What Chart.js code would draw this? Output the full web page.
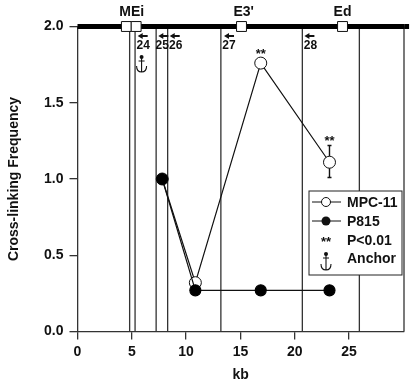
<!DOCTYPE html>
<html>
<head>
<meta charset="utf-8">
<style>
  html, body { margin: 0; padding: 0; background: #fff; }
  #wrap { position: relative; width: 412px; height: 387px; }
</style>
<script src="https://cdn.jsdelivr.net/npm/chart.js@4"></script>
</head>
<body>
<div id="wrap"><canvas id="chart"></canvas></div>
<script>
const mpcX = [7.8, 10.85, 16.87, 23.2];
const mpcY = [1.0, 0.32, 1.76, 1.11];
const p815X = [7.8, 10.85, 16.87, 23.2];
const p815Y = [1.0, 0.27, 0.27, 0.27];
const errorX = [23.2, 23.2];
const errorY = [1.01, 1.22];
const boundaryX = [4.8, 5.3, 7.24, 8.3, 13.2, 20.7, 25.95, 30.06];
const enhancerX = [4.5, 5.4, 15.1, 24.4];
const enhancerNames = ["MEi", "E3'", "Ed"];
const enhancerNameX = [5, 15.3, 24.4];
const primerNames = ["24", "25", "26", "27", "28"];
const primerX = [6.05, 7.8, 9.05, 13.95, 21.45];
const primerArrowX = [6.0, 7.9, 8.95, 13.95, 21.35];
const starX = [16.87, 23.2];
const starY = [1.83, 1.26];
const xTicks = [0, 5, 10, 15, 20, 25];
const yTicks = [0, 0.5, 1, 1.5, 2];
const legendLabels = ["MPC-11", "P815", "P<0.01", "Anchor"];

const pairs = (xs, ys) => xs.map((x, i) => ({ x: x, y: ys[i] }));
const boundaryPoints = [];
boundaryX.forEach(x => {
  boundaryPoints.push({ x: x, y: 0 }, { x: x, y: 2 }, { x: x, y: NaN });
});

const ink = "#111";
const bold = size => "bold " + size + "px 'Liberation Sans', Arial, sans-serif";

function drawAnchor(ctx, cx, top, h) {
  ctx.save();
  ctx.strokeStyle = ink;
  ctx.fillStyle = ink;
  ctx.lineWidth = 1.1;
  ctx.beginPath();
  ctx.arc(cx, top + 2, 2, 0, Math.PI * 2);
  ctx.fill();
  ctx.beginPath();
  ctx.moveTo(cx, top + 2);
  ctx.lineTo(cx, top + h);
  ctx.moveTo(cx - 3, top + 6);
  ctx.lineTo(cx + 3, top + 6);
  ctx.moveTo(cx - 5, top + h - 6);
  ctx.quadraticCurveTo(cx - 5, top + h, cx, top + h);
  ctx.quadraticCurveTo(cx + 5, top + h, cx + 5, top + h - 6);
  ctx.stroke();
  ctx.restore();
}

const overlay = {
  id: "overlay",
  afterDatasetsDraw(chart) {
    const ctx = chart.ctx;
    const sx = chart.scales.x;
    const sy = chart.scales.y;
    ctx.save();
    ctx.fillStyle = ink;
    ctx.textAlign = "center";
    ctx.textBaseline = "middle";

    ctx.font = bold(14);
    enhancerNames.forEach((t, i) => ctx.fillText(t, sx.getPixelForValue(enhancerNameX[i]), 12));

    // primer arrows and numbers
    ctx.font = bold(12);
    primerNames.forEach((t, i) => ctx.fillText(t, sx.getPixelForValue(primerX[i]), 46));
    primerArrowX.forEach(x => {
      const px = sx.getPixelForValue(x);
      ctx.beginPath();
      ctx.moveTo(px - 5, 36);
      ctx.lineTo(px, 33);
      ctx.lineTo(px, 35);
      ctx.lineTo(px + 5, 35);
      ctx.lineTo(px + 5, 37);
      ctx.lineTo(px, 37);
      ctx.lineTo(px, 39);
      ctx.closePath();
      ctx.fill();
    });

    ctx.font = bold(13);
    starX.forEach((x, i) => ctx.fillText("**", sx.getPixelForValue(x), sy.getPixelForValue(starY[i]) + 2));

    drawAnchor(ctx, sx.getPixelForValue(5.9), 55, 17);

    // legend box
    ctx.fillStyle = "#fff";
    ctx.fillRect(309, 191, 93, 84);
    ctx.strokeStyle = "#222";
    ctx.lineWidth = 1;
    ctx.strokeRect(309, 191, 93, 84);

    ctx.strokeStyle = ink;
    ctx.lineWidth = 1;
    [202, 221].forEach(y => {
      ctx.beginPath();
      ctx.moveTo(312, y);
      ctx.lineTo(341, y);
      ctx.stroke();
    });
    ctx.beginPath();
    ctx.arc(326, 202, 4.5, 0, Math.PI * 2);
    ctx.fillStyle = "#fff";
    ctx.fill();
    ctx.stroke();
    ctx.beginPath();
    ctx.arc(326, 221, 4.5, 0, Math.PI * 2);
    ctx.fillStyle = ink;
    ctx.fill();

    ctx.textAlign = "left";
    ctx.font = bold(14);
    [203, 222, 241, 259].forEach((y, i) => ctx.fillText(legendLabels[i], 347, y));
    ctx.textAlign = "center";
    ctx.font = bold(13);
    ctx.fillText("**", 326, 242);
    drawAnchor(ctx, 326, 252, 18);
    ctx.restore();
  }
};

new Chart(document.getElementById("chart"), {
  type: "scatter",
  data: {
    // first dataset is painted last
    datasets: [
      { label: "P815", data: pairs(p815X, p815Y), showLine: true, borderColor: ink, borderWidth: 1.2, pointRadius: 5.5, backgroundColor: "#000", pointBorderColor: "#000" },
      { label: "MPC-11", data: pairs(mpcX, mpcY), showLine: true, borderColor: ink, borderWidth: 1.2, pointRadius: 6, backgroundColor: "#fff", pointBorderColor: ink, pointBorderWidth: 1 },
      { data: pairs(errorX, errorY), showLine: true, borderColor: ink, borderWidth: 1.4, pointStyle: "line", pointRadius: 2, pointBorderColor: ink, pointBorderWidth: 1.4 },
      { data: enhancerX.map(x => ({ x: x, y: 2 })), pointStyle: "rect", pointRadius: 7, backgroundColor: "#fff", borderColor: "#111", borderWidth: 1, clip: false },
      { data: [{ x: 30.3, y: 2 }], pointStyle: "rect", pointRadius: 3.5, backgroundColor: "#000", borderWidth: 0, clip: false },
      { data: pairs([0, 30.06], [2, 2]), showLine: true, borderColor: "#000", borderWidth: 5, pointRadius: 0, clip: false },
      { data: boundaryPoints, showLine: true, spanGaps: false, borderColor: "#333", borderWidth: 1.3, pointRadius: 0, clip: false }
    ]
  },
  options: {
    responsive: true,
    maintainAspectRatio: false,
    animation: false,
    layout: { padding: { top: 26.5, right: 6.5 } },
    plugins: { legend: { display: false }, tooltip: { enabled: false } },
    scales: {
      x: {
        type: "linear",
        min: 0,
        max: 30.06,
        afterBuildTicks: s => { s.ticks = xTicks.map(v => ({ value: v })); },
        afterFit: s => { s.height = 55.5; },
        ticks: { color: ink, font: { family: "'Liberation Sans'", size: 14, weight: "bold" }, maxRotation: 0, padding: 4, callback: v => String(v) },
        grid: { drawOnChartArea: false, tickLength: 8, color: "#333", lineWidth: 1.3 },
        border: { color: "#333", width: 1.3 },
        title: { display: true, text: "kb", color: ink, font: { family: "'Liberation Sans'", size: 14, weight: "bold" }, padding: { top: 0, bottom: 3 } }
      },
      y: {
        min: 0,
        max: 2,
        afterBuildTicks: s => { s.ticks = yTicks.map(v => ({ value: v })); },
        afterFit: s => { s.width = 77.5; },
        ticks: { color: ink, font: { family: "'Liberation Sans'", size: 14, weight: "bold" }, padding: 6, callback: v => v.toFixed(1) },
        grid: { drawOnChartArea: false, tickLength: 8, color: "#333", lineWidth: 1.3 },
        border: { color: "#333", width: 1.3 },
        title: { display: true, text: "Cross-linking Frequency", color: ink, font: { family: "'Liberation Sans'", size: 14, weight: "bold" }, padding: { top: 6, bottom: 0 } }
      }
    }
  },
  plugins: [overlay]
});
</script>
</body>
</html>
